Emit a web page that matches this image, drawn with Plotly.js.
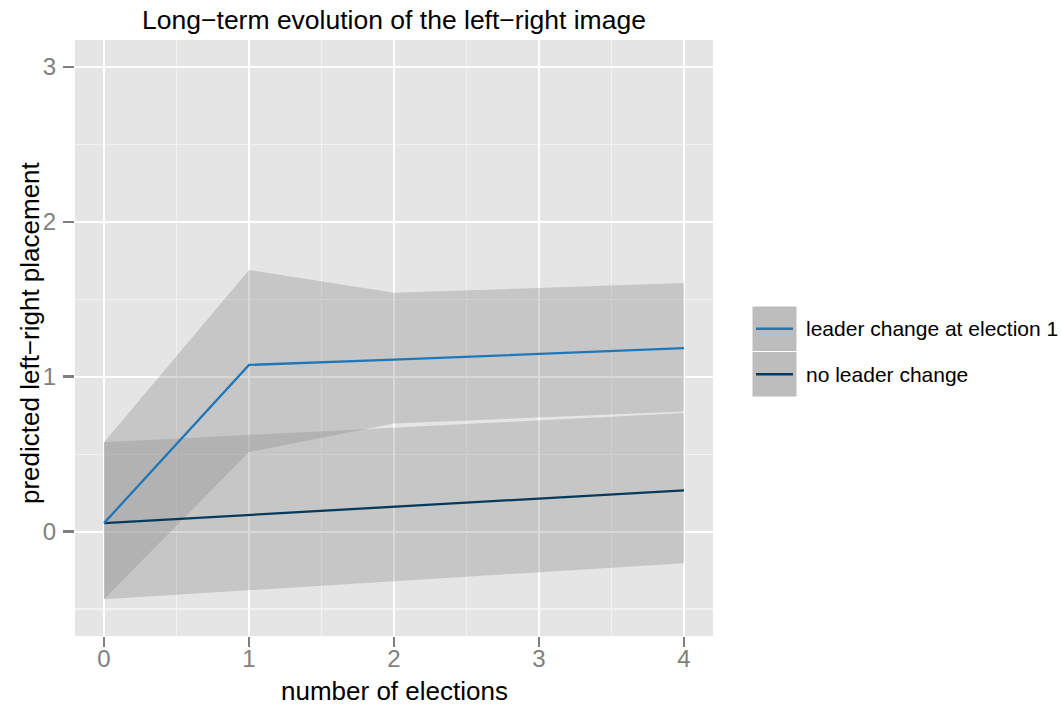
<!DOCTYPE html>
<html>
<head>
<meta charset="utf-8">
<script src="https://cdn.plot.ly/plotly-3.0.1.min.js"></script>
<style>
  html, body { margin: 0; padding: 0; background: #ffffff; }
  #chart { width: 1062px; height: 706px; }
</style>
</head>
<body>
<div id="chart"></div>
<script>
// ---- data ----
const elections = [0, 1, 2, 3, 4];
const seriesNames = ["leader change at election 1", "no leader change"];

const leaderFit   = [0.054, 1.076, 1.110, 1.147, 1.184];
const leaderUpper = [0.577, 1.690, 1.542, 1.574, 1.605];
const leaderLower = [-0.438, 0.514, 0.697, 0.737, 0.776];

const noChangeFit   = [0.054, 0.107, 0.160, 0.213, 0.266];
const noChangeUpper = [0.577, 0.624, 0.671, 0.718, 0.765];
const noChangeLower = [-0.438, -0.380, -0.322, -0.263, -0.205];

const xTicks = [0, 1, 2, 3, 4];
const yTicks = [0, 1, 2, 3];

// ---- styles ----
const colLeader = "#2077b8";
const colNoChange = "#053a5c";
const ribbonFill = "rgba(139,139,139,0.333)";

function ribbon(upper, lower, name) {
  const xs = elections.concat(elections.slice().reverse());
  const ys = upper.concat(lower.slice().reverse());
  return {
    x: xs, y: ys, type: "scatter", mode: "lines", fill: "toself",
    fillcolor: ribbonFill, line: { width: 0, color: "rgba(0,0,0,0)" },
    hoverinfo: "skip", showlegend: false, name: name
  };
}

const traces = [
  ribbon(noChangeUpper, noChangeLower, "ci no change"),
  ribbon(leaderUpper, leaderLower, "ci leader"),
  { x: elections, y: noChangeFit, type: "scatter", mode: "lines",
    line: { color: colNoChange, width: 2.3 }, name: seriesNames[1], showlegend: false },
  { x: elections, y: leaderFit, type: "scatter", mode: "lines",
    line: { color: colLeader, width: 2.3 }, name: seriesNames[0], showlegend: false }
];

const fontFam = "Liberation Sans, Arial, Helvetica, sans-serif";

const W = 1062, H = 706;
const M = { l: 75, r: 349, t: 40, b: 70 };
const PW = W - M.l - M.r, PH = H - M.t - M.b;
function px(x) { return (x - M.l) / PW; }
function py(y) { return (H - M.b - y) / PH; }

// legend built manually (ggplot-style keys)
const keyX0 = 752, keyX1 = 797, keyTop = 306, keyH = 45.5;
const shapes = [];
const annotations = [];
const legendColors = [colLeader, colNoChange];
seriesNames.forEach((nm, i) => {
  const y0 = keyTop + i * keyH, y1 = y0 + keyH;
  shapes.push({ type: "rect", xref: "paper", yref: "paper",
    x0: px(keyX0), x1: px(keyX1), y0: py(y1), y1: py(y0),
    fillcolor: "#bdbdbd", line: { color: "#ffffff", width: 1 }, layer: "above" });
  shapes.push({ type: "line", xref: "paper", yref: "paper",
    x0: px(keyX0 + 4), x1: px(keyX1 - 4), y0: py((y0 + y1) / 2), y1: py((y0 + y1) / 2),
    line: { color: legendColors[i], width: 2.3 }, layer: "above" });
  annotations.push({ xref: "paper", yref: "paper",
    x: px(804), y: py((y0 + y1) / 2), xanchor: "left", yanchor: "middle",
    text: nm, showarrow: false, font: { family: fontFam, size: 21, color: "#000000" } });
});

// axis titles
annotations.push({ xref: "paper", yref: "paper", x: px(394), y: py(691),
  xanchor: "center", yanchor: "middle", showarrow: false,
  text: "number of elections", font: { family: fontFam, size: 26, color: "#000000" } });
annotations.push({ xref: "paper", yref: "paper", x: px(30), y: py(333),
  xanchor: "center", yanchor: "middle", showarrow: false, textangle: -90,
  text: "predicted left\u2212right placement", font: { family: fontFam, size: 26, color: "#000000" } });

const layout = {
  width: W, height: H,
  paper_bgcolor: "#ffffff", plot_bgcolor: "#e5e5e5",
  margin: { l: M.l, r: M.r, t: M.t, b: M.b, pad: 0 },
  showlegend: false,
  title: { text: "Long\u2212term evolution of the left\u2212right image",
    font: { family: fontFam, size: 26.5, color: "#000000" },
    xref: "paper", x: 0.5, xanchor: "center",
    yref: "container", y: 1 - 20 / H, yanchor: "middle" },
  xaxis: {
    range: [-0.2, 4.2], tickvals: xTicks, ticktext: xTicks.map(String),
    showgrid: true, gridcolor: "#ffffff", gridwidth: 2,
    zeroline: false, showline: false,
    ticks: "outside", ticklen: 10, tickwidth: 2.5, tickcolor: "#7f7f7f",
    tickfont: { family: fontFam, size: 24, color: "#7f7f7f" },
    ticklabelstandoff: -9,
    minor: { dtick: 0.5, tick0: 0, showgrid: true, gridcolor: "#f2f2f2", gridwidth: 1.2, ticks: "" },
    automargin: false, fixedrange: true
  },
  yaxis: {
    range: [-0.675, 3.175], tickvals: yTicks, ticktext: yTicks.map(String),
    showgrid: true, gridcolor: "#ffffff", gridwidth: 2,
    zeroline: false, showline: false,
    ticks: "outside", ticklen: 11, tickwidth: 2.5, tickcolor: "#7f7f7f",
    tickfont: { family: fontFam, size: 24, color: "#7f7f7f" },
    ticklabelstandoff: 2,
    minor: { dtick: 0.5, tick0: 0, showgrid: true, gridcolor: "#f2f2f2", gridwidth: 1.2, ticks: "" },
    automargin: false, fixedrange: true
  },
  shapes: shapes,
  annotations: annotations
};

Plotly.newPlot("chart", traces, layout, { displayModeBar: false, staticPlot: true });
</script>
</body>
</html>
